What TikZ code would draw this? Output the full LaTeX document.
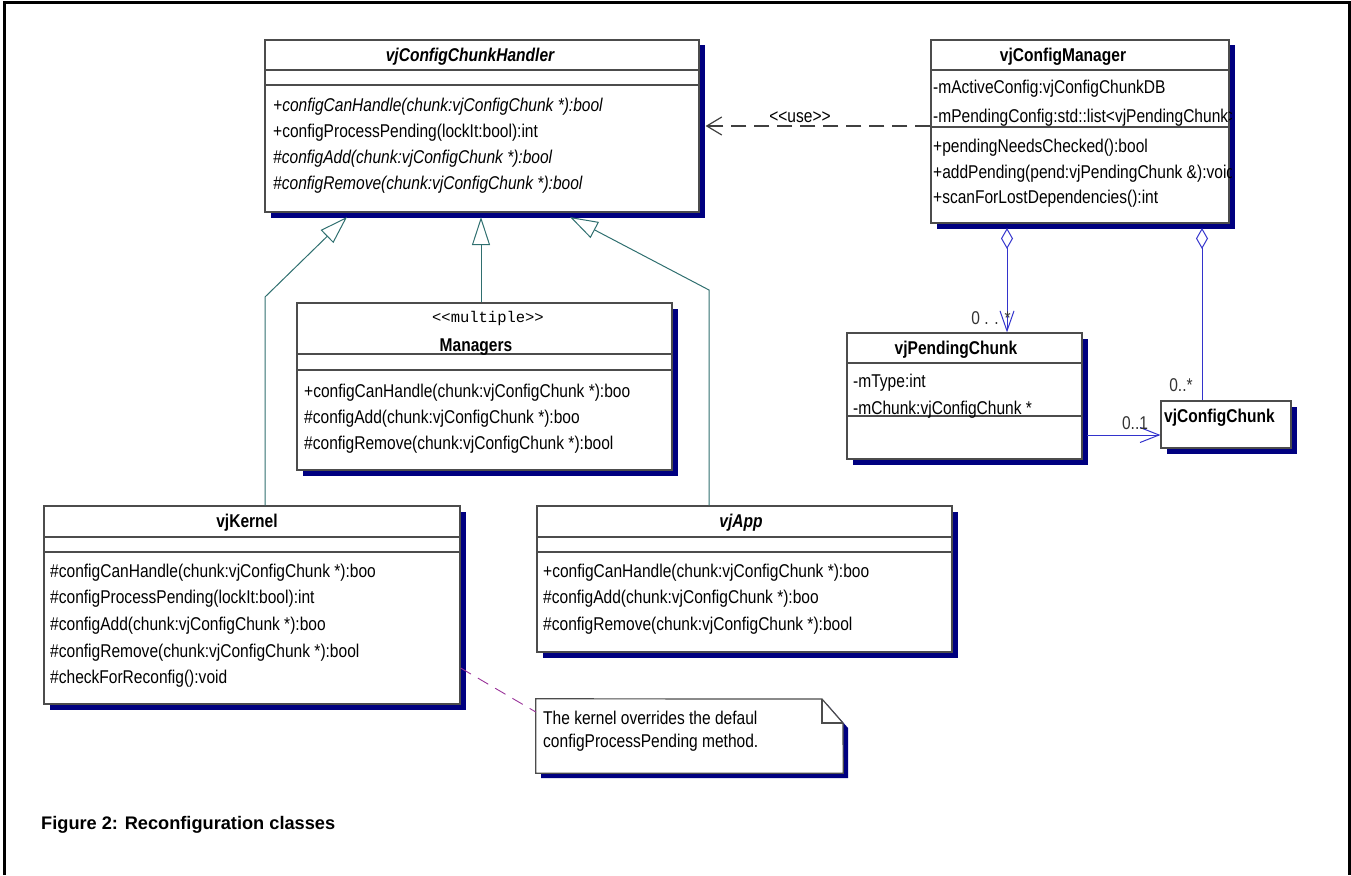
\documentclass[tikz,border=0pt]{standalone}
\usepackage{fontspec}
\setmainfont{Liberation Sans}
\setmonofont{Liberation Mono}
\newfontfamily\umlfont{Liberation Sans}[FakeStretch=0.84]
\usetikzlibrary{arrows.meta,shadows,fit,positioning}

\definecolor{navyshadow}{RGB}{0,0,128}
\definecolor{inhcol}{RGB}{47,111,111}
\definecolor{aggcol}{RGB}{51,51,204}
\definecolor{notecol}{RGB}{153,51,153}

\begin{document}
\begin{tikzpicture}[x=1pt,y=-1pt,inner sep=0pt,
font=\umlfont\fontsize{18.5}{22}\selectfont]
\tikzstyle{classbox}=[draw=black!70,line width=1.2pt,fill=white,
  drop shadow={shadow xshift=5.5pt,shadow yshift=-5.5pt,fill=navyshadow,opacity=1}]
\tikzstyle{divider}=[draw=black!70,line width=1.2pt]
\tikzstyle{classname}=[font=\umlfont\fontsize{18.5}{22}\selectfont\bfseries]
\tikzstyle{member}=[anchor=west,text height=14pt,text depth=4pt]
\tikzstyle{mult}=[text=black!80]
\tikzstyle{inherit}=[draw=inhcol,line width=1pt,-{Triangle[open,length=28pt,width=18pt]}]
\tikzstyle{aggr}=[draw=aggcol,line width=1pt]
\tikzstyle{usedep}=[draw=black!75,line width=1.2pt,dash pattern=on 15pt off 8pt,
  -{Straight Barb[length=15pt,width=18pt]}]
\tikzstyle{notelink}=[draw=notecol,line width=0.9pt,dash pattern=on 12pt off 8pt]

\useasboundingbox (0,0) rectangle (1351,875);
\draw[line width=3pt] (4,875) -- (4,3) -- (1349,3) -- (1349,875);

\node[classbox,fit={(265,40) (699,212)}]   (handler)  {};
\node[classbox,fit={(931,40) (1229,223)}]  (manager)  {};
\node[classbox,fit={(297,303) (672,470)}]  (managers) {};
\node[classbox,fit={(44,506) (460,704)}]   (kernel)   {};
\node[classbox,fit={(537,506) (952,652)}]  (vjapp)    {};
\node[classbox,fit={(847,333) (1082,459)}] (pending)  {};
\node[classbox,fit={(1161,401) (1291,448)}] (chunk)   {};
\node[fit={(536,699) (843,773)}]           (note)     {};

\draw[divider] (265,70) -- (699,70) (265,85) -- (699,85);
\draw[divider] (931,70) -- (1229,70) (931,127) -- (1229,127);
\draw[divider] (297,354) -- (672,354) (297,370) -- (672,370);
\draw[divider] (44,537) -- (460,537) (44,552) -- (460,552);
\draw[divider] (537,537) -- (952,537) (537,552) -- (952,552);
\draw[divider] (847,363) -- (1082,363) (847,416) -- (1082,416);

\node[classname] (handlername) at (470,57) {\itshape vjConfigChunkHandler};
\node[member] (h1) at (273,106) {\itshape +configCanHandle(chunk:vjConfigChunk *):bool};
\node[member] (h2) at (273,132) {+configProcessPending(lockIt:bool):int};
\node[member] (h3) at (273,158) {\itshape \#configAdd(chunk:vjConfigChunk *):bool};
\node[member] (h4) at (273,184) {\itshape \#configRemove(chunk:vjConfigChunk *):bool};

\node[classname] (managername) at (1063,57) {vjConfigManager};
\begin{scope}
\clip (manager.south west) rectangle ([xshift=2pt]manager.north east);
\node[member] (m1) at (933,88)  {-mActiveConfig:vjConfigChunkDB};
\node[member] (m2) at (933,117) {-mPendingConfig:std::list<vjPendingChunk>};
\node[member] (m3) at (933,147) {+pendingNeedsChecked():bool};
\node[member] (m4) at (933,173) {+addPending(pend:vjPendingChunk \&):void};
\node[member] (m5) at (933,198) {+scanForLostDependencies():int};
\end{scope}

\node[font=\fontsize{15.5}{18}\selectfont\ttfamily] (stereo) at (488,318) {{<}{<}multiple{>}{>}};
\node[classname] (managersname) at (476,347) {Managers};
\node[member] (s1) at (304,392) {+configCanHandle(chunk:vjConfigChunk *):boo};
\node[member] (s2) at (304,418) {\#configAdd(chunk:vjConfigChunk *):boo};
\node[member] (s3) at (304,444) {\#configRemove(chunk:vjConfigChunk *):bool};

\node[classname] (kernelname) at (247,523) {vjKernel};
\node[member] (k1) at (50,572) {\#configCanHandle(chunk:vjConfigChunk *):boo};
\node[member] (k2) at (50,598) {\#configProcessPending(lockIt:bool):int};
\node[member] (k3) at (50,625) {\#configAdd(chunk:vjConfigChunk *):boo};
\node[member] (k4) at (50,652) {\#configRemove(chunk:vjConfigChunk *):bool};
\node[member] (k5) at (50,678) {\#checkForReconfig():void};

\node[classname] (appname) at (741,523) {\itshape vjApp};
\node[member] (a1) at (543,572) {+configCanHandle(chunk:vjConfigChunk *):boo};
\node[member] (a2) at (543,598) {\#configAdd(chunk:vjConfigChunk *):boo};
\node[member] (a3) at (543,625) {\#configRemove(chunk:vjConfigChunk *):bool};

\node[classname] (pendingname) at (956,350) {vjPendingChunk};
\node[member] (p1) at (853,382) {-mType:int};
\node[member] (p2) at (853,409) {-mChunk:vjConfigChunk *};

\node[classname,anchor=west] (chunkname) at (1164,418) {vjConfigChunk};

\fill[navyshadow] (541,704) -- (827,704) -- (848,728) -- (848,778) -- (541,778) -- cycle;
\draw[divider,fill=white] (note.north west) -- (822,699) -- (843,723) -- (note.south east)
  -- (note.south west) -- cycle;
\draw[divider] (822,699) -- (822,723) -- (843,723);
\node[member] (n1) at (543,719) {The kernel overrides the defaul};
\node[member] (n2) at (543,742) {configProcessPending method.};

\coordinate (kbend) at (265,297);
\coordinate (ktip)  at (347,217);
\coordinate (mtip)  at (481,217);
\coordinate (abend) at (709,290);
\coordinate (atip)  at (570,217);
\draw[inherit] (kernel.north -| kbend) -- (kbend) -- (ktip);
\draw[inherit] (managers.north -| mtip) -- (mtip);
\draw[inherit] (vjapp.north -| abend) -- (abend) -- (atip);

\draw[usedep] (manager.west |- handler.east) -- node[pos=0.58,above=3pt] (uselbl)
  {{<}{<}use{>}{>}} ([xshift=6pt]handler.east);

\coordinate (pagg)  at (1007,228);
\coordinate (cagg)  at (1202,228);
\coordinate (plink) at (1087,435);
\draw[aggr,{Diamond[open,length=21pt,width=12pt]}-{Straight Barb[length=20pt,width=14pt]}]
  (pagg) -- (pagg |- pending.north);
\draw[aggr,{Diamond[open,length=21pt,width=12pt]}-] (cagg) -- (cagg |- chunk.north);
\draw[aggr,-{Straight Barb[length=19pt,width=15pt]}] (plink) -- (plink -| chunk.west);
\node[mult] (pmult) at (991,318) {0 . . *};
\node[mult] (cmult) at (1181,385) {0..*};
\node[mult] (lmult) at (1135,423) {0..1};

\draw[notelink] ([yshift=-63pt]kernel.east) -- ([yshift=24pt]note.west);

\node[anchor=west,font=\fontsize{18.2}{22}\selectfont\bfseries] (caption) at (41,825)
  {Figure 2: Reconfiguration classes};
\end{tikzpicture}
\end{document}
